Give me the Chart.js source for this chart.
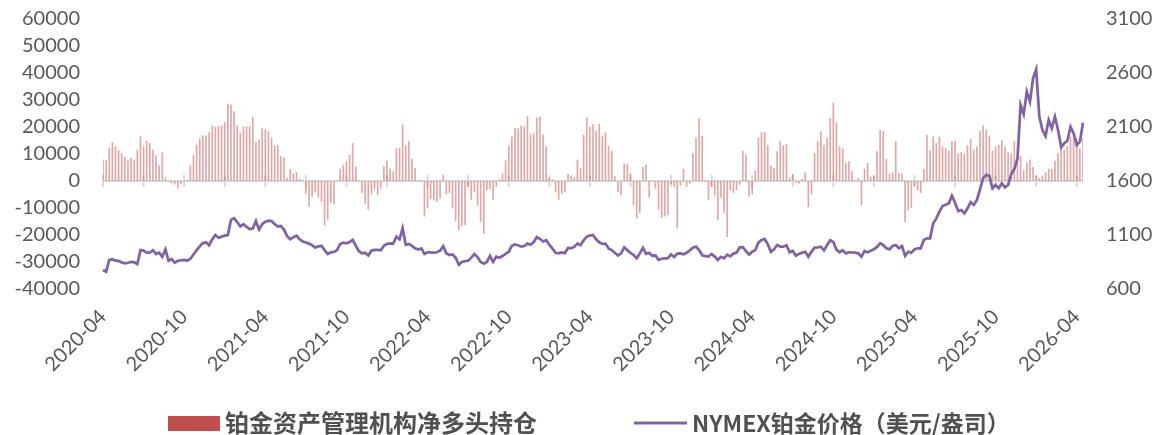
<!DOCTYPE html>
<html>
<head>
<meta charset="utf-8">
<script src="https://cdn.jsdelivr.net/npm/chart.js@4.4.1/dist/chart.umd.min.js"></script>
<style>
  html, body { margin: 0; padding: 0; background: #fff; }
  #wrap { width: 1156px; height: 435px; position: relative; }
</style>
</head>
<body>
<div id="wrap"><canvas id="pt-chart"></canvas></div>
<script>
// weekly COT managed-money net long (contracts) vs NYMEX platinum ($/oz)
const startWeek = '2020-04-07';
const tickLabels = ['2020-04', '2020-10', '2021-04', '2021-10', '2022-04', '2022-10', '2023-04',
  '2023-10', '2024-04', '2024-10', '2025-04', '2025-10', '2026-04'];

const netLong = [
  7800, 7700, 12300, 14300, 12700, 11200, 10000, 8800, 7500, 8500,
  7800, 11500, 16400, 12700, 14800, 13900, 11500, 9400, 5600, 10500,
  1100, 0, -800, -1200, -2700, -1000, 0, 300, 5600, 9600,
  13300, 15600, 16700, 16800, 17900, 20400, 19900, 20100, 20500, 21700,
  28500, 28100, 25700, 20500, 17700, 20100, 20100, 20100, 23600, 14300,
  15200, 19300, 19000, 18300, 15800, 13000, 13300, 9000, 8600, 1000,
  4300, 2600, 3200, 700, 0, -4600, -9300, -5600, -4000, -6000,
  -7600, -16300, -14200, -8000, -8500, 0, 4400, 5900, 7200, 9600,
  14000, 5100, 0, -4300, -8300, -10500, -4900, -3100, -5200, -2700,
  5300, 7400, 4400, 3500, 11900, 12100, 20700, 13100, 14600, 8100,
  4700, 0, 0, -13000, -10000, -6400, -7000, -7600, -6400, 2200,
  -4900, -4300, -10100, -14700, -18100, -16500, -16300, -2100, -6800, -4000,
  -9000, -15000, -19400, -3300, -2800, -7000, -2100, 500, 2800, 7500,
  13000, 16400, 19500, 19300, 20400, 20100, 23800, 17300, 17600, 23400,
  23800, 17000, 12700, 1000, 500, -4000, -6800, -4600, -4000, 2500,
  1900, 1200, 7800, 4700, 17000, 23400, 20100, 20900, 18500, 21100,
  16400, 17900, 13000, 11100, 1600, -4000, -5200, 6300, 6300, 2800,
  -8900, -13800, -11700, 5100, 5900, -6000, 0, -2700, -10500, -13500,
  -13000, -12600, -1000, -2100, -17500, -1500, 4300, -2100, -900, 10200,
  16000, 23000, 16700, 0, -7000, -2100, -5200, -14400, -6000, -11700,
  -20600, -3300, -4300, -3300, -1200, 11100, 9600, -5600, -4800, 3700,
  16000, 17900, 18000, 13000, 5600, 4700, 10900, 14600, 13000, 13600,
  1000, 2600, -500, -800, 600, 3200, -9500, -4800, 10200, 14600,
  18300, 13100, 16000, 23200, 28800, 21600, 12700, 12100, 6500, 7200,
  3500, 0, 1000, -8900, 4300, 6500, 1400, 1800, 10900, 18900,
  18300, 8000, 2600, 3100, 14600, 2800, 2600, -15100, -10700, -9900,
  -1800, -3300, -4300, 4300, 17000, 11200, 16400, 14000, 16400, 12700,
  12100, 11100, 14600, 14800, 10200, 10600, 10000, 13000, 15600, 11500,
  12700, 18300, 20400, 18900, 16400, 11200, 12700, 13300, 15200, 12700,
  10500, 10000, 14600, 9300, 9300, 3800, 6800, 7800, 5100, 1900,
  1000, 1900, 3100, 4400, 4300, 7400, 10200, 11500, 11500, 12700,
  16200, 15800, 15800, 11900, 15800
];

const price = [
  776, 760, 870, 875, 862, 860, 845, 838, 843, 850,
  848, 830, 960, 955, 936, 936, 960, 924, 936, 899,
  967, 862, 878, 843, 860, 866, 869, 862, 880, 920,
  960, 995, 1025, 1032, 1005, 1060, 1100, 1075, 1085, 1094,
  1100, 1240, 1255, 1220, 1180, 1200, 1175, 1155, 1160, 1230,
  1150, 1200, 1223, 1233, 1230, 1200, 1180, 1183, 1150, 1090,
  1060, 1080, 1094, 1060, 1040, 1030, 1020, 1005, 983, 995,
  1000, 960, 924, 940, 943, 960, 1017, 1029, 1023, 1035,
  1055, 1000, 950, 930, 935, 910, 955, 962, 962, 958,
  1000, 1018, 1023, 1020, 1084, 1060, 1162, 1010, 1017, 1000,
  977, 965, 975, 925, 940, 938, 937, 940, 955, 995,
  930, 915, 920, 890, 825, 850, 858, 862, 890, 924,
  895, 850, 835, 850, 905, 850, 900, 890, 905, 925,
  945, 1000, 1012, 1005, 992, 998, 1020, 1010, 1035, 1080,
  1065, 1040, 1052, 1010, 975, 935, 930, 938, 932, 980,
  978, 990, 1020, 1008, 1050, 1085, 1094, 1100, 1060, 1032,
  1017, 1020, 975, 960, 935, 910, 930, 985, 960, 935,
  915, 884, 930, 980, 925, 935, 908, 910, 870, 880,
  884, 885, 920, 895, 928, 930, 922, 935, 958, 983,
  992, 960, 912, 905, 900, 924, 900, 868, 898, 884,
  918, 902, 928, 937, 985, 988, 950, 918, 945, 960,
  1029, 1054, 1063, 1014, 945, 967, 1007, 992, 992, 1005,
  940, 952, 908, 925, 937, 945, 900, 945, 983, 986,
  992, 958, 1007, 1050, 1035, 965, 940, 958, 930, 940,
  938, 937, 930, 900, 952, 940, 955, 967, 990, 1023,
  1007, 977, 967, 998, 1007, 977, 998, 908, 945, 937,
  967, 977, 977, 1054, 1069, 1069, 1208, 1254, 1316, 1368,
  1380, 1393, 1464, 1399, 1322, 1331, 1301, 1347, 1403, 1378,
  1424, 1523, 1625, 1657, 1648, 1532, 1563, 1532, 1578, 1541,
  1563, 1663, 1711, 1804, 2304, 2220, 2427, 2334, 2550, 2634,
  2196, 2072, 2016, 2165, 2088, 2196, 2072, 1912, 1949, 1973,
  2103, 2041, 1933, 1964, 2140
];

const categories = netLong.map((_, i) => {
  const d = new Date(startWeek + 'T00:00:00Z');
  d.setUTCDate(d.getUTCDate() + 7 * i);
  return d.toISOString().slice(0, 10);
});

const seriesNames = ['铂金资产管理机构净多头持仓', 'NYMEX铂金价格（美元/盎司）'];
const barColor = 'rgba(192, 80, 77, 0.5)';
const lineColor = '#8064A2';
const tickFont = { family: 'Lato, "Liberation Sans", sans-serif', size: 20 };
const plain = (v) => String(v);
// invisible tick marks keep the labels 23px off the plot without adding top padding
const hiddenTicks = { display: true, drawOnChartArea: false, drawTicks: true, tickLength: 23, color: 'transparent' };

// grey zero axis with a tick mark every quarter (13 weeks)
const zeroAxis = {
  id: 'zeroAxis',
  beforeDatasetsDraw(chart) {
    const { ctx, chartArea, scales } = chart;
    const y0 = scales.y.getPixelForValue(0);
    ctx.save();
    ctx.strokeStyle = '#d9d9d9';
    ctx.lineWidth = 2;
    ctx.beginPath();
    ctx.moveTo(chartArea.left, y0);
    ctx.lineTo(chartArea.right, y0);
    for (let i = 0; i < categories.length; i += 13) {
      const x = scales.x.getPixelForValue(i);
      ctx.moveTo(x, y0 - 6);
      ctx.lineTo(x, y0 + 6);
    }
    ctx.stroke();
    ctx.restore();
  }
};

// legend row under the date labels
const bottomLegend = {
  id: 'bottomLegend',
  afterDraw(chart) {
    const ctx = chart.ctx;
    const y = 423;
    ctx.save();
    ctx.fillStyle = '#C0504D';
    ctx.fillRect(168, y - 7, 52, 15);
    ctx.strokeStyle = lineColor;
    ctx.lineWidth = 3;
    ctx.beginPath();
    ctx.moveTo(634, y);
    ctx.lineTo(687, y);
    ctx.stroke();
    ctx.fillStyle = '#505050';
    ctx.textBaseline = 'middle';
    ctx.font = 'bold 24px "Noto Sans CJK SC", sans-serif';
    ctx.fillText(seriesNames[0], 225, y);
    ctx.font = 'bold 23px "Noto Sans CJK SC", sans-serif';
    ctx.fillText(seriesNames[1], 692, y);
    ctx.restore();
  }
};

new Chart(document.getElementById('pt-chart'), {
  type: 'bar',
  data: {
    labels: categories,
    datasets: [
      {
        type: 'line',
        label: seriesNames[1],
        data: price,
        yAxisID: 'y1',
        borderColor: lineColor,
        backgroundColor: lineColor,
        borderWidth: 2.75,
        pointRadius: 0,
        tension: 0,
        order: 0
      },
      {
        label: seriesNames[0],
        data: netLong,
        yAxisID: 'y',
        backgroundColor: barColor,
        barThickness: 1,
        order: 1
      }
    ]
  },
  options: {
    responsive: true,
    maintainAspectRatio: false,
    animation: false,
    layout: { padding: { top: 19, left: 0, right: 0, bottom: 0 } },
    plugins: {
      legend: { display: false },
      tooltip: { enabled: false }
    },
    scales: {
      x: {
        type: 'category',
        offset: false,
        grid: { display: false, drawTicks: false },
        border: { display: false },
        ticks: {
          autoSkip: false,
          minRotation: 45,
          maxRotation: 45,
          padding: 16,
          color: '#595959',
          font: tickFont,
          callback: (v, i) => (i % 26 === 0 ? tickLabels[i / 26] : null)
        },
        afterFit: (s) => { s.height = 146; }
      },
      y: {
        position: 'left',
        min: -40000,
        max: 60000,
        grid: hiddenTicks,
        border: { display: false },
        ticks: { stepSize: 10000, autoSkip: false, padding: 0, color: '#595959', font: tickFont, callback: plain },
        afterFit: (s) => { s.width = 103; }
      },
      y1: {
        position: 'right',
        min: 600,
        max: 3100,
        grid: hiddenTicks,
        border: { display: false },
        ticks: { stepSize: 500, autoSkip: false, padding: 0, color: '#595959', font: tickFont, callback: plain },
        afterFit: (s) => { s.width = 73; }
      }
    }
  },
  plugins: [zeroAxis, bottomLegend]
});
</script>
</body>
</html>
